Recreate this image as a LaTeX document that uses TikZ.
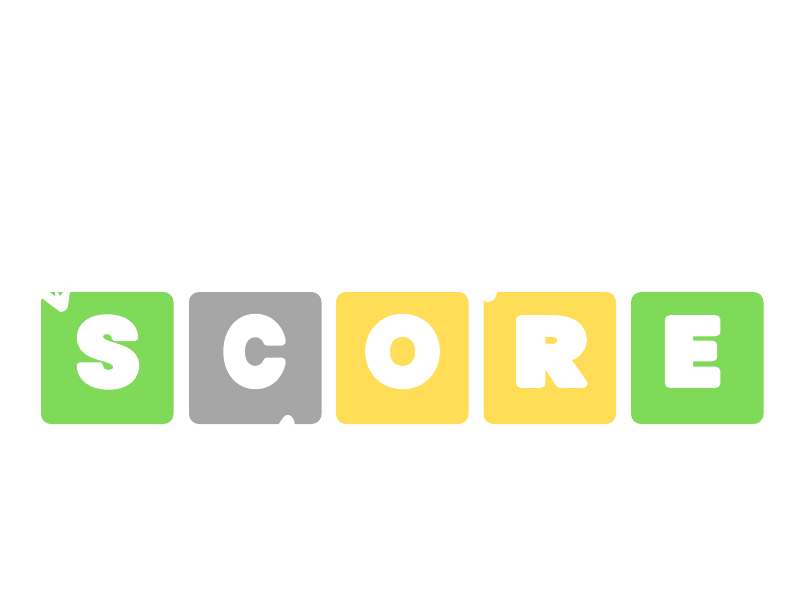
\documentclass[tikz,border=0pt]{standalone}
\usepackage{fontspec}
\usepackage{graphicx}
\newfontfamily\tilefont[BoldFont={* Bold},BoldFeatures={FakeBold=9.5}]{Poppins}
\newfontfamily\tilefontlight[BoldFont={* Bold},BoldFeatures={FakeBold=7}]{Poppins}
\definecolor{tilegreen}{HTML}{7FDA59}
\definecolor{tilegray}{HTML}{A6A6A6}
\definecolor{tileyellow}{HTML}{FFDD57}
\tikzset{
  tile/.style={fill=#1,draw=none,rounded corners=10pt},
  nick/.style={fill=white,draw=none},
  letter/.style={inner sep=0pt,outer sep=0pt,text=white,anchor=center,line join=round}
}
\newcommand{\tileletter}[3]{\resizebox{#1pt}{#2pt}{\pgfsetroundjoin\tilefont\bfseries #3}}
\newcommand{\tileletterlight}[3]{\resizebox{#1pt}{#2pt}{\pgfsetroundjoin\tilefontlight\bfseries #3}}
\begin{document}
\begin{tikzpicture}[x=1pt,y=-1pt]
\useasboundingbox (0,0) rectangle (800,600);
\fill[white] (0,0) rectangle (800,600);
% tiles
\fill[tile=tilegreen] (41,292) rectangle (173.5,424);
\fill[tile=tilegray] (189,292) rectangle (321.5,424);
\fill[tile=tileyellow] (336,292) rectangle (468.5,424);
\fill[tile=tileyellow] (483.5,292) rectangle (616,424);
\fill[tile=tilegreen] (631,292) rectangle (763.5,424);
% nicks
\fill[nick] (39,296) -- (57,309.5) .. controls (60,312.5) and (62,312.5) .. (65,310.5) .. controls (67,309) and (68,308) .. (68,306) -- (70,291) -- (39,288) -- cycle;
\fill[tilegreen] (50,292) -- (55,292) -- (55,296) -- cycle;
\fill[tilegreen] (58,292) -- (63,292) -- (60,296) -- cycle;
\fill[nick] (278,425) -- (283,418) .. controls (285,415) and (288,414) .. (291,416) .. controls (294,418) and (294,421) .. (295,425) -- cycle;
\fill[nick] (482,291) -- (497,291) .. controls (497,297) and (494,301) .. (489,302) .. controls (486,302.5) and (484,301) .. (482,299) -- cycle;
% letters
\node[letter] (s) at (108,352) {\tileletterlight{64}{68}{S}};
\node[letter] (c) at (255,351.5) {\tileletter{61}{66}{C}};
\node[letter] (o) at (402.5,351.5) {\tileletter{72}{66}{O}};
\node[letter] (r) at (550.5,351.5) {\tileletter{72}{64}{R}};
\node[letter] (e) at (692,351.5) {\tileletter{57}{64}{E}};
\end{tikzpicture}
\end{document}
